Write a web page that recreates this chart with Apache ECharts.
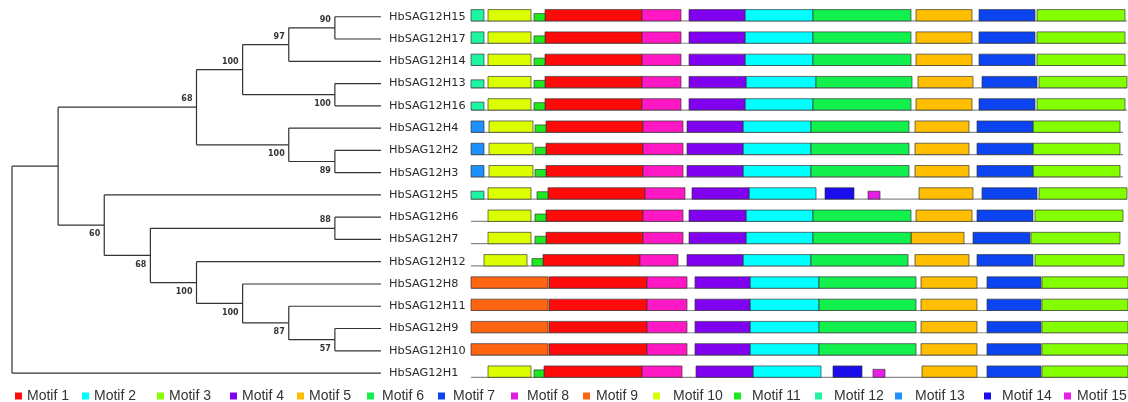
<!DOCTYPE html>
<html><head><meta charset="utf-8">
<script src="https://cdn.jsdelivr.net/npm/echarts@6/dist/echarts.min.js"></script>
<style>html,body{margin:0;padding:0;background:#fff}#c{width:1128px;height:402px}</style>
</head><body><div id="c"></div>
<script>
// ---------- DATA ----------
const genes = ['HbSAG12H15','HbSAG12H17','HbSAG12H14','HbSAG12H13','HbSAG12H16','HbSAG12H4','HbSAG12H2','HbSAG12H3','HbSAG12H5','HbSAG12H6','HbSAG12H7','HbSAG12H12','HbSAG12H8','HbSAG12H11','HbSAG12H9','HbSAG12H10','HbSAG12H1'];
const motifNames = ['Motif 1','Motif 2','Motif 3','Motif 4','Motif 5','Motif 6','Motif 7','Motif 8','Motif 9','Motif 10','Motif 11','Motif 12','Motif 13','Motif 14','Motif 15'];
const motifColors = ['#ff0a0a','#00ffff','#84ff00','#8000f0','#ffbe00','#12f04e','#0b44f0','#ff18c4','#ff6410','#dcff00','#1ee81e','#1ef5a0','#1e90ff','#1a0ced','#e61ee6'];

// tree internal nodes: [id, level, upper child, lower child, bootstrap]
const treeNodes = [
  ['n90', 7, 'HbSAG12H15', 'HbSAG12H17', 90],
  ['n97', 6, 'n90', 'HbSAG12H14', 97],
  ['nG', 7, 'HbSAG12H13', 'HbSAG12H16', 100],
  ['nD', 5, 'n97', 'nG', 100],
  ['nI', 7, 'HbSAG12H2', 'HbSAG12H3', 89],
  ['nE', 6, 'HbSAG12H4', 'nI', 100],
  ['nB', 4, 'nD', 'nE', 68],
  ['nK', 7, 'HbSAG12H6', 'HbSAG12H7', 88],
  ['nO', 7, 'HbSAG12H9', 'HbSAG12H10', 57],
  ['nN', 6, 'HbSAG12H11', 'nO', 87],
  ['nM', 5, 'HbSAG12H8', 'nN', 100],
  ['nL', 4, 'HbSAG12H12', 'nM', 100],
  ['nJ', 3, 'nK', 'nL', 68],
  ['nC', 2, 'HbSAG12H5', 'nJ', 60],
  ['nA', 1, 'nB', 'nC', null],
  ['root', 0, 'nA', 'HbSAG12H1', null]
];
const leafLevel = 8;

// motif blocks per gene: [motif number, start, end, relative score (default 1)]
const mH15 = [[12,0,13],[10,17,60],[11,63,74,0.65],[1,74,171],[8,171,210],[4,218,274],[2,274,342],[6,342,440],[5,445,501],[7,508,564],[3,566,654]];
const mH17 = [[12,0,13],[10,17,60],[11,63,74,0.65],[1,74,171],[8,171,210],[4,218,274],[2,274,342],[6,342,440],[5,445,501],[7,508,564],[3,566,654]];
const mH14 = [[12,0,13],[10,17,60],[11,63,74,0.65],[1,74,171],[8,171,210],[4,218,274],[2,274,342],[6,342,440],[5,445,501],[7,508,564],[3,566,654]];
const mH13 = [[12,0,13,0.7],[10,17,60],[11,63,74,0.65],[1,74,171],[8,171,210],[4,218,275],[2,275,345],[6,345,441],[5,447,502],[7,511,566],[3,568,656]];
const mH16 = [[12,0,13,0.7],[10,17,60],[11,63,74,0.65],[1,74,171],[8,171,210],[4,218,274],[2,274,342],[6,342,440],[5,445,501],[7,508,564],[3,566,654]];
const mH4  = [[13,0,13],[10,18,62],[11,64,75,0.65],[1,75,172],[8,172,212],[4,216,272],[2,272,340],[6,340,438],[5,444,498],[7,506,562],[3,562,649]];
const mH2  = [[13,0,13],[10,18,62],[11,64,75,0.65],[1,75,172],[8,172,212],[4,216,272],[2,272,340],[6,340,438],[5,444,498],[7,506,562],[3,562,649]];
const mH3  = [[13,0,13],[10,18,62],[11,64,75,0.65],[1,75,172],[8,172,212],[4,216,272],[2,272,340],[6,340,438],[5,444,498],[7,506,562],[3,562,649]];
const mH5  = [[12,0,13,0.7],[10,17,60],[11,66,77,0.65],[1,77,174],[8,174,214],[4,221,278],[2,278,345],[14,354,383],[15,397,409,0.7],[5,448,502],[7,511,566],[3,568,656]];
const mH6  = [[10,17,60],[11,64,75,0.65],[1,75,172],[8,172,212],[4,218,275],[2,275,342],[6,342,440],[5,445,501],[7,506,562],[3,564,652]];
const mH7  = [[10,17,60],[11,64,75,0.65],[1,75,172],[8,172,212],[4,218,275],[2,275,342],[6,342,440],[5,440,493],[7,502,559],[3,560,649]];
const mH12 = [[10,13,56],[11,61,72,0.65],[1,72,169],[8,169,207],[4,216,272],[2,272,340],[6,340,437],[5,444,498],[7,506,562],[3,564,653]];
const mH8  = [[9,0,77],[1,78,176],[8,176,216],[4,224,279],[2,279,348],[6,348,445],[5,450,506],[7,516,570],[3,571,657]];
const mH11 = [[9,0,77],[1,78,176],[8,176,216],[4,224,279],[2,279,348],[6,348,445],[5,450,506],[7,516,570],[3,571,657]];
const mH9  = [[9,0,77],[1,78,176],[8,176,216],[4,224,279],[2,279,348],[6,348,445],[5,450,506],[7,516,570],[3,571,657]];
const mH10 = [[9,0,77],[1,78,176],[8,176,216],[4,224,279],[2,279,348],[6,348,445],[5,450,506],[7,516,570],[3,571,657]];
const mH1  = [[10,17,60],[11,63,73,0.65],[1,73,171],[8,171,211],[4,225,282],[2,282,350],[14,362,391],[15,402,414,0.7],[5,451,506],[7,516,570],[3,571,657]];
const geneLengths = [656,656,656,656,656,652,652,652,656,652,649,653,657,657,657,657,657];

// ---------- BUILD ----------
const geneMotifs = [mH15,mH17,mH14,mH13,mH16,mH4,mH2,mH3,mH5,mH6,mH7,mH12,mH8,mH11,mH9,mH10,mH1];

// tree geometry in (level, row) units
const pos = {};
genes.forEach((g, i) => { pos[g] = { lv: leafLevel, y: i }; });
const treeData = [];
treeNodes.forEach(n => {
  const [id, lv, c1, c2, bs] = n;
  const a = pos[c1], b = pos[c2];
  const y = (a.y + b.y) / 2;
  pos[id] = { lv: lv, y: y };
  treeData.push({ value: [lv, y, a.y, b.y, a.lv, b.lv], boot: bs });
});
const upperSet = new Set(treeNodes.map(n => n[2]));
treeData.forEach((d, i) => { d.upper = upperSet.has(treeNodes[i][0]); });

const LINE = '#333';
function treeRender(params, api) {
  const d = treeData[params.dataIndex];
  const p = api.coord([api.value(0), api.value(1)]);
  const a = api.coord([api.value(0), api.value(2)]);
  const b = api.coord([api.value(0), api.value(3)]);
  const ca = api.coord([api.value(4), api.value(2)]);
  const cb = api.coord([api.value(5), api.value(3)]);
  const st = { stroke: LINE, lineWidth: 1.2 };
  const children = [
    { type: 'line', shape: { x1: a[0], y1: a[1], x2: b[0], y2: b[1] }, style: st },
    { type: 'line', shape: { x1: a[0], y1: a[1], x2: ca[0], y2: ca[1] }, style: st },
    { type: 'line', shape: { x1: b[0], y1: b[1], x2: cb[0], y2: cb[1] }, style: st }
  ];
  if (d.boot != null) {
    children.push({
      type: 'text',
      style: {
        text: String(d.boot), x: p[0] - 4, y: p[1] + (d.upper ? -8 : 9),
        align: 'right', verticalAlign: 'middle',
        font: 'bold 8px "DejaVu Sans"', fill: '#333'
      }
    });
  }
  return { type: 'group', children: children };
}

function blockRender(params, api) {
  const s = api.coord([api.value(0), api.value(2)]);
  const e = api.coord([api.value(1), api.value(2)]);
  const band = api.size([0, 1])[1];
  const base = s[1] + band * 0.19;
  const h = band * 0.51 * api.value(3);
  return {
    type: 'rect',
    shape: { x: s[0], y: base - h, width: e[0] - s[0], height: h },
    style: { fill: api.visual('color'), stroke: 'rgba(50,50,50,0.75)', lineWidth: 0.9 }
  };
}

function baseRender(params, api) {
  const s = api.coord([0, api.value(1)]);
  const e = api.coord([api.value(0), api.value(1)]);
  const band = api.size([0, 1])[1];
  const y = s[1] + band * 0.19;
  return { type: 'line', shape: { x1: s[0], y1: y, x2: e[0], y2: y }, style: { stroke: '#8a8a8a', lineWidth: 1.2 } };
}

const series = [];
series.push({
  type: 'custom', name: 'tree', xAxisIndex: 0, yAxisIndex: 0, silent: true,
  renderItem: treeRender, data: treeData.map(d => d.value), clip: false
});
series.push({
  type: 'custom', name: 'baseline', xAxisIndex: 1, yAxisIndex: 2, silent: true, z: 1,
  renderItem: baseRender, data: geneLengths.map((L, i) => [L, i])
});
motifNames.forEach((name, k) => {
  const data = [];
  geneMotifs.forEach((blocks, row) => {
    blocks.forEach(b => { if (b[0] === k + 1) data.push([b[1], b[2], row, b[3] == null ? 1 : b[3]]); });
  });
  series.push({
    type: 'custom', name: name, xAxisIndex: 1, yAxisIndex: 2, z: 2,
    itemStyle: { color: motifColors[k] },
    renderItem: blockRender, data: data, encode: { x: [0, 1], y: 2 }
  });
});

// legend layout (pixel positions of each item)
const legendLeft = [15,82,157,230,297,367,438,511,583,653,734,815,895,984,1064];
const legendPad  = [0,0,0,0,0,3,3,4,1,8,6,7,8,6,1];
const legends = motifNames.map((name, k) => ({
  left: legendLeft[k], top: 389, orient: 'horizontal', padding: 0,
  itemWidth: 7, itemHeight: 7, icon: 'rect', selectedMode: false,
  data: [k === 7 ? { name: name, itemStyle: { color: '#e01ee0' } } : name],
  textStyle: { fontFamily: '"Liberation Sans", Arial, sans-serif', fontSize: 14, color: '#333', padding: [0, 0, 0, legendPad[k]] }
}));

const GT = 5.6, GH = 378.6;
const option = {
  animation: false,
  backgroundColor: '#fff',
  grid: [
    { left: 12, width: 369, top: GT, height: GH },
    { left: 471, width: 657, top: GT, height: GH }
  ],
  xAxis: [
    { type: 'value', gridIndex: 0, min: 0, max: leafLevel, show: false },
    { type: 'value', gridIndex: 1, min: 0, max: 657, show: false }
  ],
  yAxis: [
    { type: 'value', gridIndex: 0, min: -0.5, max: genes.length - 0.5, inverse: true, show: false },
    { type: 'category', gridIndex: 0, data: genes, inverse: true, position: 'right',
      axisLine: { show: false }, axisTick: { show: false }, splitLine: { show: false },
      axisLabel: { margin: 8, align: 'left', fontFamily: '"DejaVu Sans", Verdana, sans-serif', fontSize: 11.3, color: '#2a2a2a' } },
    { type: 'value', gridIndex: 1, min: -0.5, max: genes.length - 0.5, inverse: true, show: false }
  ],
  legend: legends,
  series: series
};
const chart = echarts.init(document.getElementById('c'), null, { renderer: 'canvas' });
chart.setOption(option);
</script></body></html>
